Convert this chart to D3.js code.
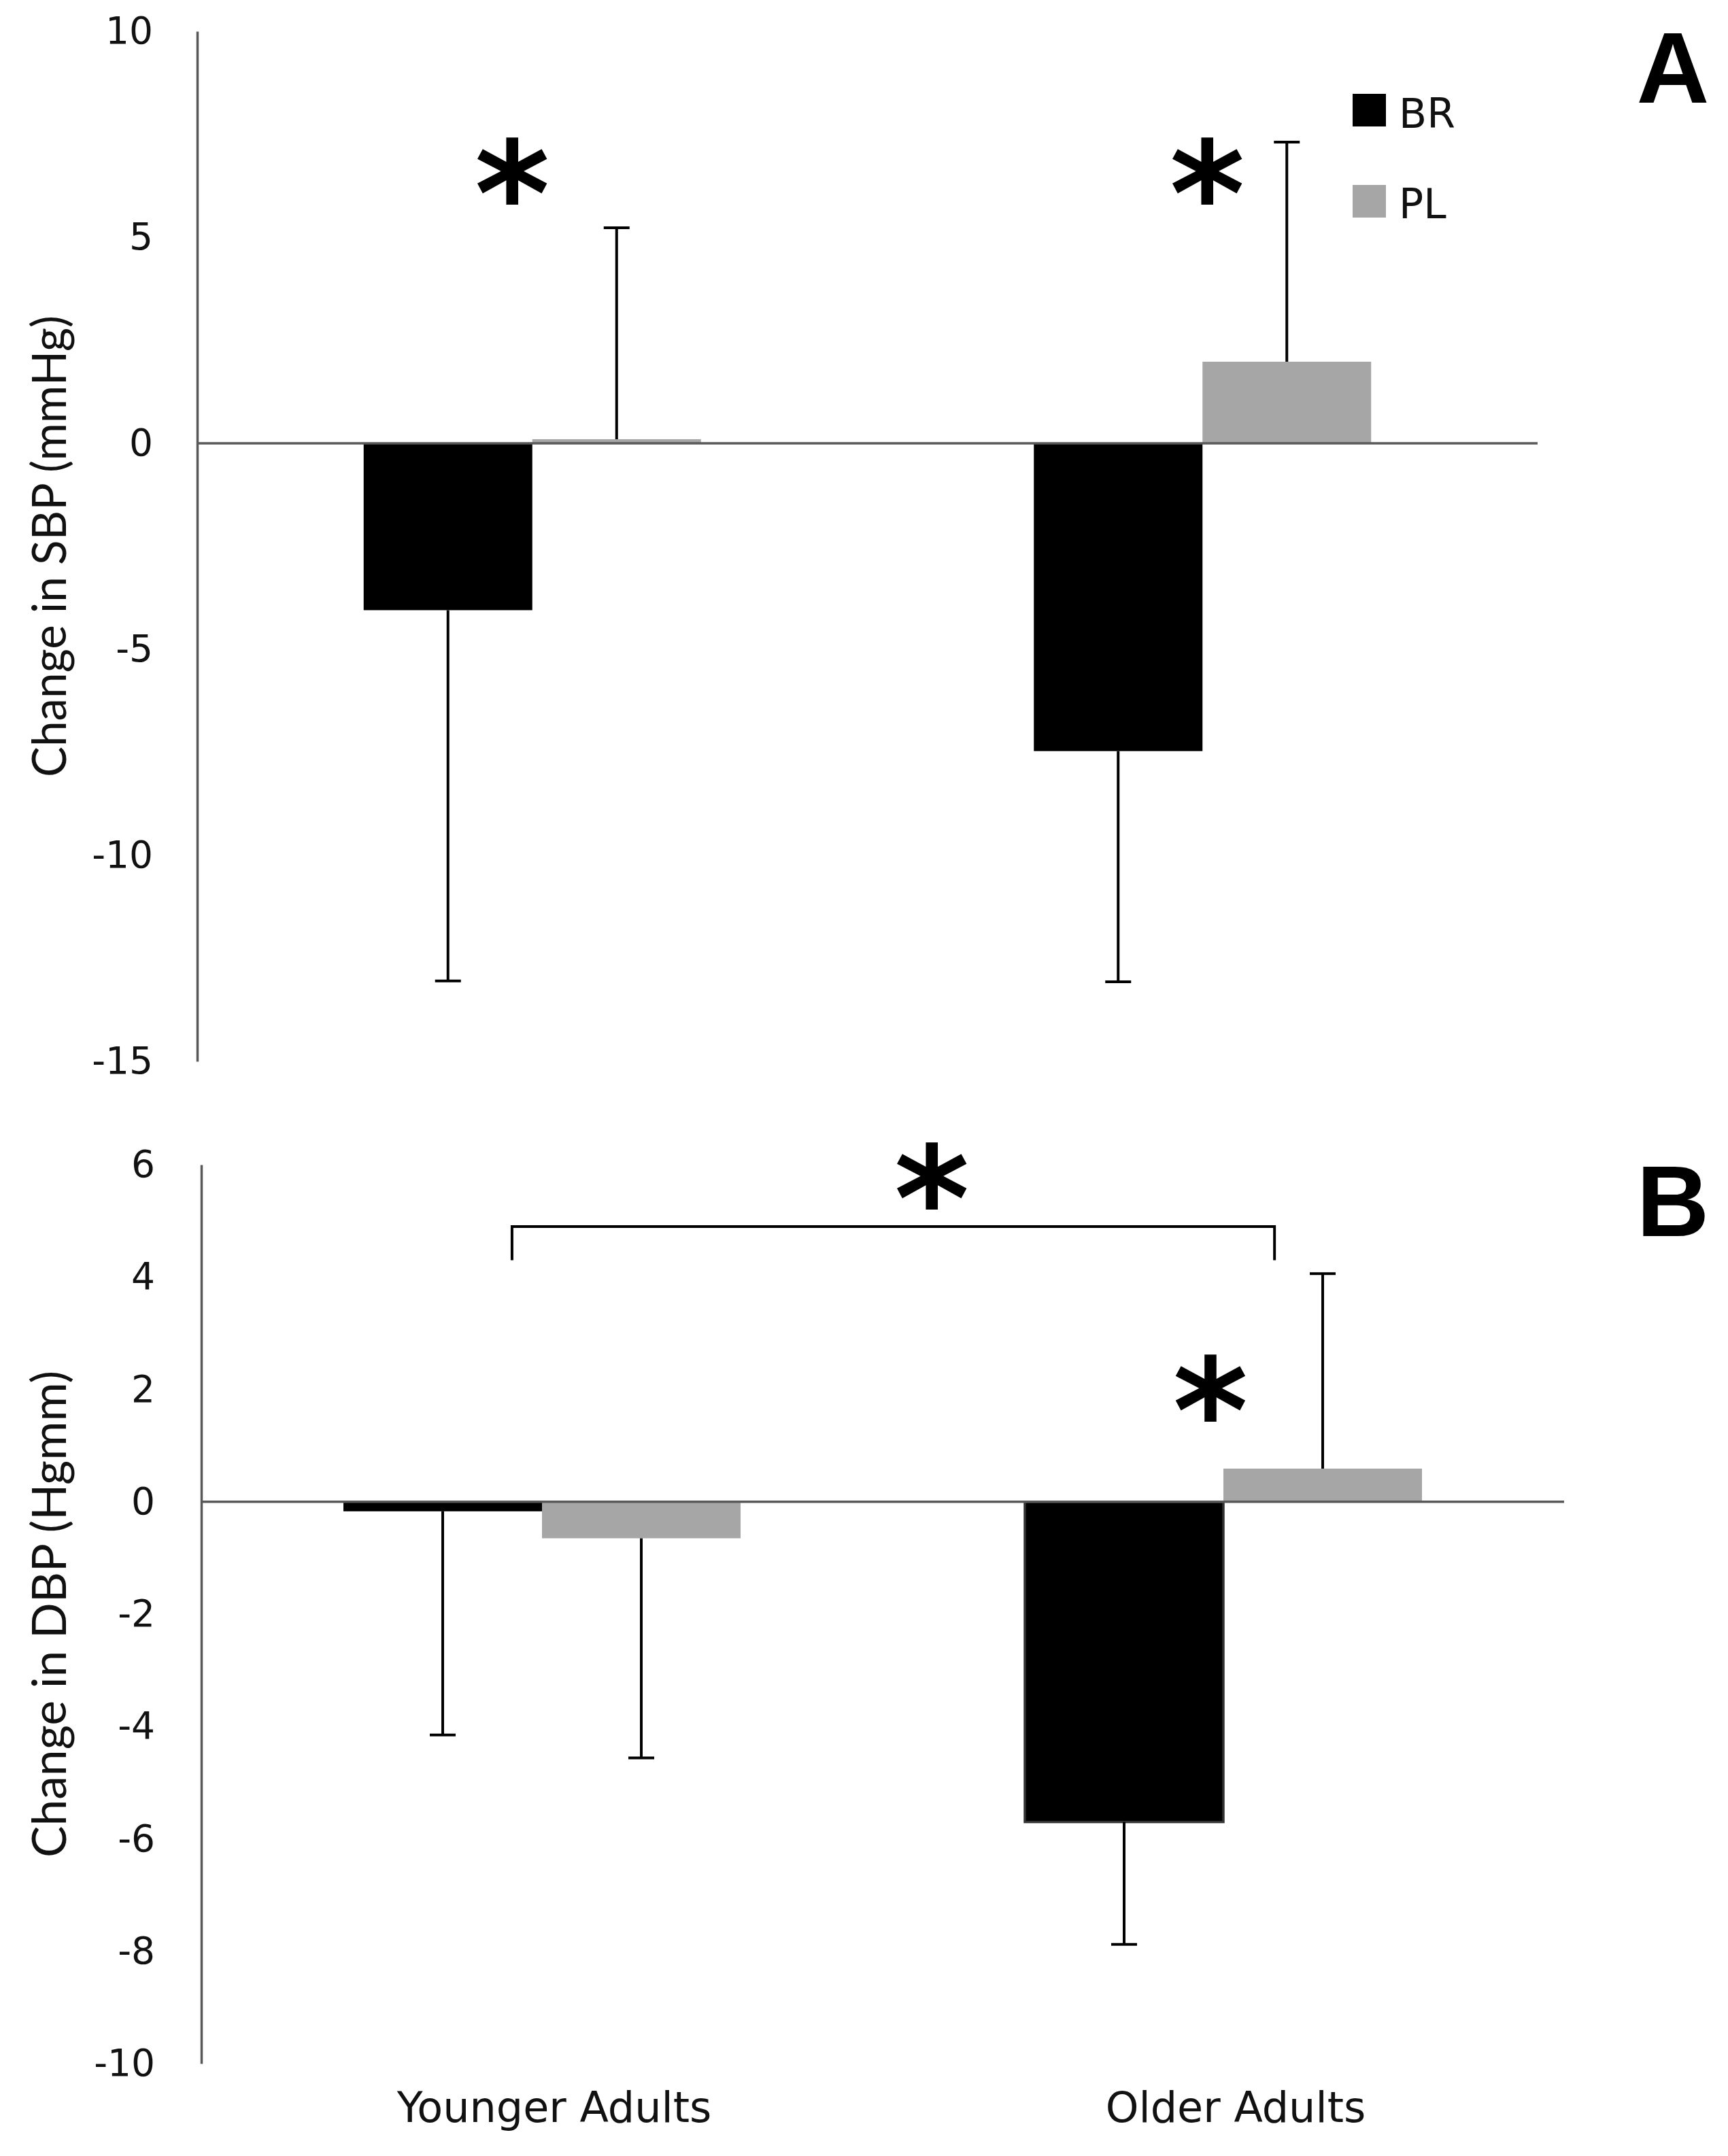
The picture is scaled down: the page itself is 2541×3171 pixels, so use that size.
<!DOCTYPE html>
<html>
<head>
<meta charset="utf-8">
<script src="https://cdn.jsdelivr.net/npm/d3@7"></script>
<style>
  body { margin: 0; background: #ffffff; }
</style>
</head>
<body>
<div id="chart"></div>
<script>
//Données
const categories = ["Younger Adults", "Older Adults"];
const series = ["BR", "PL"];
const colors = ["#000000", "#a6a6a6"];

//------Panneau A : variation de la PAS
const sbpBR = [-4.05, -7.47];
const sbpPL = [0.1, 1.98];
const sbpBRErr = [9.0, 5.6];
const sbpPLErr = [5.13, 5.33];
const sbpTicks = [10, 5, 0, -5, -10, -15];

//------Panneau B : variation de la PAD
const dbpBR = [-0.17, -5.7];
const dbpPL = [-0.65, 0.59];
const dbpBRErr = [3.98, 2.18];
const dbpPLErr = [3.91, 3.47];
const dbpTicks = [6, 4, 2, 0, -2, -4, -6, -8, -10];

//------Astérisques (position en unités de catégorie : 0 = jeunes, 1 = âgés)
const sbpStars = [[-0.03, 6.6], [1.007, 6.6]];
const dbpStars = [[0.572, 5.8], [0.981, 2.02]];
const dbpBracket = [-0.044, 1.075, 4.9, 4.3];

const svg = d3
  .select("#chart")
  .append("svg")
  .attr("width", 2541)
  .attr("height", 3171)
  .attr("viewBox", "0 0 2541 3171");

svg.append("rect").attr("width", 2541).attr("height", 3171).attr("fill", "#ffffff");

const panels = [
  {
    values: [sbpBR, sbpPL], errs: [sbpBRErr, sbpPLErr], ticks: sbpTicks,
    domain: [-15, 10], yRange: [1561, 46], left: 290, right: 2261, barW: 248, pad: 65,
    title: "Change in SBP (mmHg)", titleX: 97, titleLen: 679,
    stars: sbpStars, letter: "A", letterY: 151, stroke: null
  },
  {
    values: [dbpBR, dbpPL], errs: [dbpBRErr, dbpPLErr], ticks: dbpTicks,
    domain: [-10, 6], yRange: [3035, 1713], left: 296, right: 2300, barW: 292, pad: 68,
    title: "Change in DBP (Hgmm)", titleX: 97, titleLen: 716,
    stars: dbpStars, letter: "B", letterY: 1818, stroke: "#333333"
  }
];

panels.forEach((p, k) => {
  const y = d3.scaleLinear().domain(p.domain).range(p.yRange);
  const x0 = d3.scaleBand().domain(categories).range([p.left, p.right]);
  const x1 = d3.scaleBand().domain(series).range([-p.barW, p.barW]);
  const center = c => x0(c) + x0.bandwidth() / 2;
  const xi = d3.scaleLinear().domain([0, 1]).range([center(categories[0]), center(categories[1])]);

  const data = [];
  categories.forEach((c, i) => series.forEach((s, j) => data.push({
    cat: c, serie: s, value: p.values[j][i], err: p.errs[j][i], color: colors[j]
  })));

  const grp = svg.append("g");

  //------Barres
  grp.selectAll(".barre")
    .data(data)
    .enter()
    .append("rect")
    .attr("class", "barre")
    .attr("x", d => center(d.cat) + x1(d.serie))
    .attr("width", x1.bandwidth())
    .attr("y", d => y(Math.max(0, d.value)))
    .attr("height", d => Math.abs(y(d.value) - y(0)))
    .attr("fill", d => d.color)
    .attr("stroke", d => (p.stroke && d.serie == "BR" && d.value < -1) ? p.stroke : "none")
    .attr("stroke-width", 3.5);

  //------Ligne du zéro
  grp.append("line")
    .attr("x1", p.left).attr("x2", p.right)
    .attr("y1", y(0)).attr("y2", y(0))
    .attr("stroke", "#595959")
    .attr("stroke-width", 3.5);

  //------Barres d'erreur (vers l'extérieur)
  const end = d => d.value >= 0 ? d.value + d.err : d.value - d.err;
  const eb = grp.selectAll(".err")
    .data(data)
    .enter()
    .append("g")
    .attr("class", "err")
    .attr("stroke", "#000")
    .attr("stroke-width", 4);
  eb.append("line")
    .attr("x1", d => center(d.cat) + x1(d.serie) + x1.bandwidth() / 2)
    .attr("x2", d => center(d.cat) + x1(d.serie) + x1.bandwidth() / 2)
    .attr("y1", d => y(d.value))
    .attr("y2", d => y(end(d)));
  eb.append("line")
    .attr("x1", d => center(d.cat) + x1(d.serie) + x1.bandwidth() / 2 - 19)
    .attr("x2", d => center(d.cat) + x1(d.serie) + x1.bandwidth() / 2 + 19)
    .attr("y1", d => y(end(d)))
    .attr("y2", d => y(end(d)));

  //------Axe y
  svg.append("g")
    .attr("transform", `translate(${p.left},0)`)
    .call(d3.axisLeft(y).tickValues(p.ticks).tickSize(0).tickSizeOuter(0).tickPadding(p.pad).tickFormat(d => String(d)))
    .attr("font-size", 55)
    .attr("font-family", "DejaVu Sans")
    .call(g => g.select(".domain").attr("stroke", "#595959").attr("stroke-width", 3.5))
    .selectAll("text")
    .attr("fill", "#111");

  //------Titre de l'axe
  const ymid = (p.yRange[0] + p.yRange[1]) / 2;
  svg.append("text")
    .attr("transform", `translate(${p.titleX},${ymid}) rotate(-90)`)
    .attr("text-anchor", "middle")
    .attr("font-family", "Lato")
    .attr("font-size", 70)
    .attr("textLength", p.titleLen)
    .attr("lengthAdjust", "spacingAndGlyphs")
    .attr("fill", "#111")
    .text(p.title);

  //------Astérisques
  grp.selectAll(".star")
    .data(p.stars)
    .enter()
    .append("text")
    .attr("class", "star")
    .attr("x", d => xi(d[0]))
    .attr("y", d => y(d[1]))
    .attr("dy", "0.51em")
    .attr("text-anchor", "middle")
    .attr("font-family", "DejaVu Sans")
    .attr("font-weight", "bold")
    .attr("font-size", 212)
    .text("*");

  //------Accolade de comparaison (panneau B)
  if (k == 1) {
    const b = dbpBracket;
    grp.append("path")
      .attr("d", `M${xi(b[0])},${y(b[3])}V${y(b[2])}H${xi(b[1])}V${y(b[3])}`)
      .attr("fill", "none")
      .attr("stroke", "#000")
      .attr("stroke-width", 4);

    //------Etiquettes de l'axe x
    svg.selectAll(".xlab")
      .data(categories)
      .enter()
      .append("text")
      .attr("class", "xlab")
      .attr("x", d => center(d) + 18)
      .attr("y", 3121)
      .attr("text-anchor", "middle")
      .attr("font-family", "DejaVu Sans")
      .attr("font-size", 62)
      .attr("fill", "#111")
      .text(d => d);
  }

  //------Lettre du panneau
  svg.append("text")
    .attr("x", 2460)
    .attr("y", p.letterY)
    .attr("text-anchor", "middle")
    .attr("font-family", "Liberation Sans")
    .attr("font-weight", "bold")
    .attr("font-size", 148)
    .text(p.letter);
});

//------Légende
const legende = svg.append("g").attr("transform", "translate(1989,138)");
legende.selectAll("rect")
  .data(series)
  .enter()
  .append("rect")
  .attr("x", 0)
  .attr("y", (d, i) => i * 134)
  .attr("width", 49)
  .attr("height", 48)
  .attr("fill", (d, i) => colors[i]);
legende.selectAll("text")
  .data(series)
  .enter()
  .append("text")
  .attr("x", 68)
  .attr("y", (d, i) => 50 + i * 133)
  .attr("font-family", "DejaVu Sans")
  .attr("font-size", 60)
  .attr("fill", "#111")
  .text(d => d);
</script>
</body>
</html>
